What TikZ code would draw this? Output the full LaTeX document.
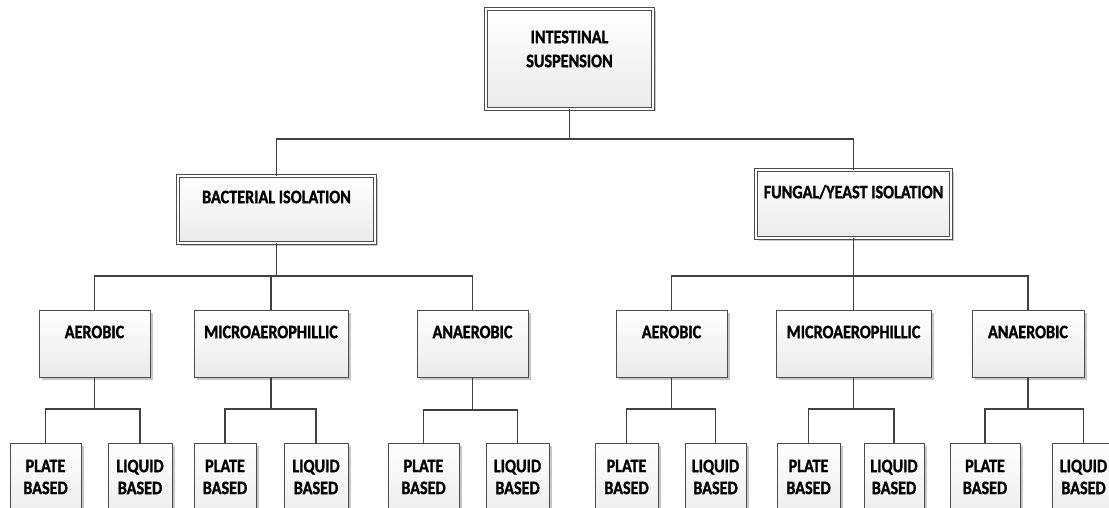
\documentclass[tikz,border=0pt]{standalone}
\usepackage{fontspec}
\setmainfont{Carlito}
\newfontfamily\lblfont[FakeStretch=0.85, BoldFeatures={FakeBold=1.2}]{Carlito}
\usetikzlibrary{shadows}
\tikzset{
 box/.style={draw=black!70, line width=0.8pt, top color=white, bottom color=black!8,
   drop shadow={shadow xshift=2.5pt, shadow yshift=-2.5pt, fill=black!22, opacity=1}, inner sep=0pt},
 dbox/.style={box, double=white, double distance=1.6pt},
 txt/.style={font=\lblfont\bfseries\fontsize{19}{22}\selectfont, align=center, inner sep=0pt, text=black},
 conn/.style={draw=black!75, line width=1.3pt},
}
\newcommand{\bx}[8]{\node[#1, minimum width=#5pt, minimum height=#6pt] (#2) at (#3,#4) {};
  \node[txt] (#2t) at (#3,#7) {#8};}
\begin{document}
\begin{tikzpicture}[x=1pt,y=-1pt]
\clip (0,0) rectangle (1109,508);
\fill[white] (0,0) rectangle (1109,508);
% top
\bx{dbox}{top}{569.5}{59}{167}{100}{49}{INTESTINAL\\[2pt]SUSPENSION}
% level 1
\bx{dbox}{bact}{276.5}{209.5}{197}{67}{197}{BACTERIAL ISOLATION}
\bx{dbox}{fung}{853.5}{204}{195}{68}{192}{FUNGAL/YEAST ISOLATION}
% level 2
\bx{box}{a1}{94.5}{343.5}{111}{67}{332}{AEROBIC}
\bx{box}{a2}{271}{343.5}{154}{67}{332}{MICROAEROPHILLIC}
\bx{box}{a3}{472.5}{343.5}{111}{67}{332}{ANAEROBIC}
\bx{box}{a4}{671.5}{343.5}{111}{67}{332}{AEROBIC}
\bx{box}{a5}{853.5}{343.5}{155}{67}{332}{MICROAEROPHILLIC}
\bx{box}{a6}{1028}{343.5}{112}{67}{332}{ANAEROBIC}
% level 3
\bx{box}{p1}{45.5}{483}{71}{80}{477}{PLATE\\BASED}
\bx{box}{q1}{140}{483}{64}{80}{477}{LIQUID\\BASED}
\bx{box}{p2}{225}{483}{62}{80}{477}{PLATE\\BASED}
\bx{box}{q2}{316}{483}{64}{80}{477}{LIQUID\\BASED}
\bx{box}{p3}{423.5}{483}{71}{80}{477}{PLATE\\BASED}
\bx{box}{q3}{517.5}{483}{63}{80}{477}{LIQUID\\BASED}
\bx{box}{p4}{626.5}{483}{63}{80}{477}{PLATE\\BASED}
\bx{box}{q4}{715.5}{483}{61}{80}{477}{LIQUID\\BASED}
\bx{box}{p5}{808.5}{483}{63}{80}{477}{PLATE\\BASED}
\bx{box}{q5}{894}{483}{60}{80}{477}{LIQUID\\BASED}
\bx{box}{p6}{985}{483}{70}{80}{477}{PLATE\\BASED}
\bx{box}{q6}{1083.5}{483}{63}{80}{477}{LIQUID\\BASED}
% junctions
\coordinate (j0) at (569.5,139);
\coordinate (j1) at (276.5,276);
\coordinate (j2) at (853.5,276);
\coordinate (k1) at (94.5,409);
\coordinate (k2) at (271,409);
\coordinate (k3) at (472.5,410);
\coordinate (k4) at (671.5,409);
\coordinate (k5) at (853.5,409);
\coordinate (k6) at (1028,409);
% connectors
\draw[conn] (top.south) -- (j0);
\draw[conn] (j0) -| (bact.north);
\draw[conn] (j0) -| (fung.north);
\draw[conn] (bact.south) -- (j1);
\draw[conn] (j1) -| (a1.north);
\draw[conn] (j1) -| (a2.north);
\draw[conn] (j1) -| (a3.north);
\draw[conn] (fung.south) -- (j2);
\draw[conn] (j2) -| (a4.north);
\draw[conn] (j2) -| (a5.north);
\draw[conn] (j2) -| (a6.north);
\foreach \i in {1,...,6}{
  \draw[conn] (a\i.south) -- (k\i);
  \draw[conn] (k\i) -| (p\i.north);
  \draw[conn] (k\i) -| (q\i.north);
}
\end{tikzpicture}
\end{document}
